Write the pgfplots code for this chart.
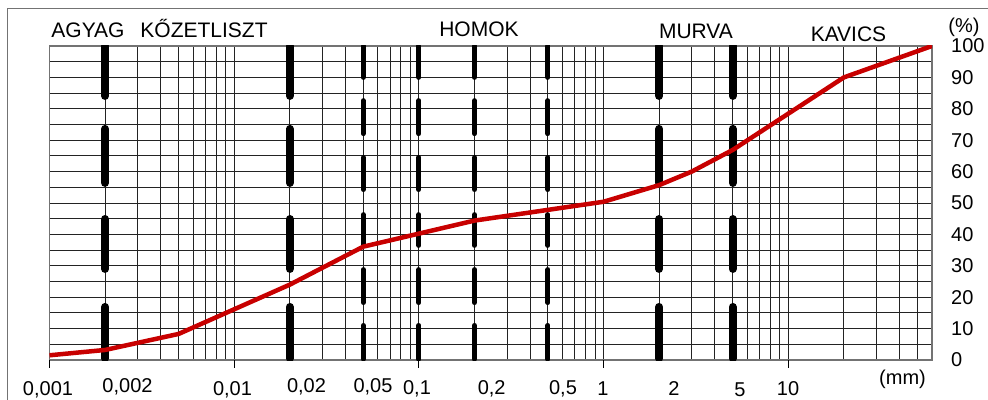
\documentclass[border=0pt]{standalone}
\usepackage{pgfplots}
\pgfplotsset{compat=1.18}
\usepackage{fontspec}
\setmainfont{Liberation Sans}
\definecolor{curve}{RGB}{200,0,0}
\definecolor{gridc}{RGB}{35,35,35}
\begin{document}
\begin{tikzpicture}[x=1bp,y=1bp]
\useasboundingbox (0,0) rectangle (988,399);
\draw[black!55,line width=1bp] (7,-5) -- (7,390) -- (995,390);
\begin{axis}[at={(49.5bp,39bp)}, anchor=south west, scale only axis,
  width=882.5bp, height=314bp,
  xmode=log, xmin=0.001, xmax=60, ymin=0, ymax=100,
  xtick={0.001,0.01,0.1,1,10}, xticklabels={},
  minor xtick={0.002,0.003,0.004,0.005,0.006,0.007,0.008,0.009,
               0.02,0.03,0.04,0.05,0.06,0.07,0.08,0.09,
               0.2,0.3,0.4,0.5,0.6,0.7,0.8,0.9,
               2,3,4,5,6,7,8,9,20,30,40,50},
  ytick={0,10,20,30,40,50,60,70,80,90,100},
  minor ytick={5,15,25,35,45,55,65,75,85,95},
  yticklabel pos=right,
  yticklabels={0,10,20,30,40,50,60,70,80,90,100},
  yticklabel style={anchor=west, inner sep=0pt, xshift=19bp},
  grid=both,
  major grid style={gridc, line width=1bp},
  minor grid style={gridc, line width=1bp},
  major tick length=0pt, minor tick length=0pt,
  axis line style={black!55, line width=1.4bp},
  tick label style={font=\fontsize{20bp}{24bp}\selectfont},
  clip mode=individual,
  unbounded coords=jump,
]
% thick fraction boundaries
\addplot[black, line width=8bp, line cap=round] coordinates {(0.002,84.1)(0.002,100) (0.002,nan) (0.002,56.4)(0.002,73.6) (0.002,nan) (0.002,29)(0.002,44.9) (0.002,nan) (0.002,0.5)(0.002,16.9)};
\addplot[black, line width=8bp, line cap=round] coordinates {(0.02,84.1)(0.02,100) (0.02,nan) (0.02,56.4)(0.02,73.6) (0.02,nan) (0.02,29)(0.02,44.9) (0.02,nan) (0.02,0.5)(0.02,16.9)};
\addplot[black, line width=8bp, line cap=round] coordinates {(2,84.1)(2,100) (2,nan) (2,56.4)(2,73.6) (2,nan) (2,29)(2,44.9) (2,nan) (2,0.5)(2,16.9)};
\addplot[black, line width=8bp, line cap=round] coordinates {(5,84.1)(5,100) (5,nan) (5,56.4)(5,73.6) (5,nan) (5,29)(5,44.9) (5,nan) (5,0.5)(5,16.9)};
% thin boundaries
\addplot[black, line width=5bp, line cap=round] coordinates {(0.05,90)(0.05,100) (0.05,nan) (0.05,72.1)(0.05,82.6) (0.05,nan) (0.05,54.3)(0.05,64.5) (0.05,nan) (0.05,36.5)(0.05,46.3) (0.05,nan) (0.05,18.3)(0.05,28.8) (0.05,nan) (0.05,0.3)(0.05,11)};
\addplot[black, line width=5bp, line cap=round] coordinates {(0.1,90)(0.1,100) (0.1,nan) (0.1,72.1)(0.1,82.6) (0.1,nan) (0.1,54.3)(0.1,64.5) (0.1,nan) (0.1,36.5)(0.1,46.3) (0.1,nan) (0.1,18.3)(0.1,28.8) (0.1,nan) (0.1,0.3)(0.1,11)};
\addplot[black, line width=5bp, line cap=round] coordinates {(0.2,90)(0.2,100) (0.2,nan) (0.2,72.1)(0.2,82.6) (0.2,nan) (0.2,54.3)(0.2,64.5) (0.2,nan) (0.2,36.5)(0.2,46.3) (0.2,nan) (0.2,18.3)(0.2,28.8) (0.2,nan) (0.2,0.3)(0.2,11)};
\addplot[black, line width=5bp, line cap=round] coordinates {(0.5,90)(0.5,100) (0.5,nan) (0.5,72.1)(0.5,82.6) (0.5,nan) (0.5,54.3)(0.5,64.5) (0.5,nan) (0.5,36.5)(0.5,46.3) (0.5,nan) (0.5,18.3)(0.5,28.8) (0.5,nan) (0.5,0.3)(0.5,11)};
% grain size curve
\addplot[curve, line width=4.5bp, line join=round] coordinates {
 (0.001,1.5) (0.002,3.2) (0.005,8.3) (0.02,24) (0.05,36.1) (0.2,44.4)
 (1,50.4) (2,55.7) (3,60) (5,66.9) (20,90) (60,100)};
% decade ticks
\foreach \d in {0.001,0.01,0.1,1,10} {
  \edef\tmp{\noexpand\draw[black, line width=1bp] (axis cs:\d,0) -- ([yshift=-8bp]axis cs:\d,0);}\tmp
}
\end{axis}
\begin{scope}[font=\fontsize{20bp}{24bp}\selectfont]
\node[anchor=base] at (48,3.5) {0,001};
\node[anchor=base] at (127.5,6.5) {0,002};
\node[anchor=base] at (232.5,3.5) {0,01};
\node[anchor=base] at (306.5,6.5) {0,02};
\node[anchor=base] at (373,6.5) {0,05};
\node[anchor=base] at (417,4.5) {0,1};
\node[anchor=base] at (491.7,4.5) {0,2};
\node[anchor=base] at (563,5) {0,5};
\node[anchor=base] at (603,3.5) {1};
\node[anchor=base] at (674,3.5) {2};
\node[anchor=base] at (740,3) {5};
\node[anchor=base] at (788,3.5) {10};
\node[anchor=base] at (902.5,15) {(mm)};
\node[anchor=base] at (964,366.5) {(\%)};
\end{scope}
\begin{scope}[font=\fontsize{21bp}{25bp}\selectfont]
\node[anchor=base] at (88,361.7) {AGYAG};
\node[anchor=base] at (204,361.7) {KŐZETLISZT};
\node[anchor=base] at (479,362.3) {HOMOK};
\node[anchor=base] at (696,360.7) {MURVA};
\node[anchor=base] at (848.5,358) {KAVICS};
\end{scope}
\end{tikzpicture}
\end{document}
